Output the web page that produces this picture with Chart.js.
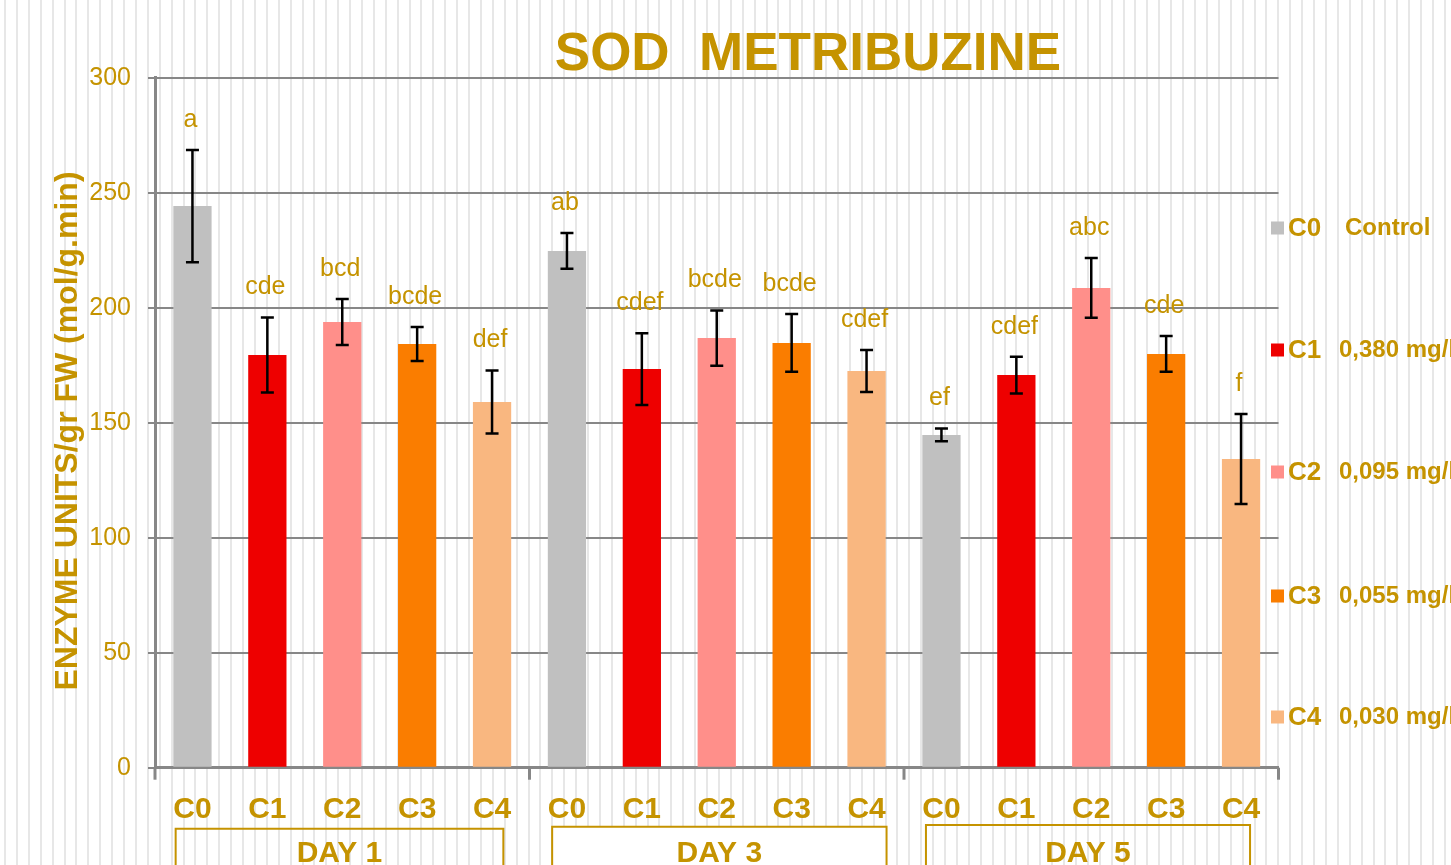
<!DOCTYPE html>
<html>
<head>
<meta charset="utf-8">
<script src="https://cdn.jsdelivr.net/npm/chart.js@4.4.1/dist/chart.umd.min.js"></script>
<style>
  html, body { margin: 0; padding: 0; background: #ffffff; }
  body { width: 1451px; height: 865px; overflow: hidden; }
  #wrap { position: relative; width: 1451px; height: 865px; }
</style>
</head>
<body>
<div id="wrap"><canvas id="c" width="1451" height="865"></canvas></div>
<script>
// ---------------- DATA ----------------
const categories = ['C0','C1','C2','C3','C4','C0','C1','C2','C3','C4','C0','C1','C2','C3','C4'];
const days = ['DAY 1', 'DAY 3', 'DAY 5'];
const sodValues = [244.2, 179.4, 193.8, 184.2, 159.0,
                   224.7, 173.3, 186.8, 184.7, 172.5,
                   144.7, 170.7, 208.6, 179.9, 134.2];
const sodErrors = [24.4, 16.3, 10.0, 7.4, 13.7,
                   7.8, 15.6, 12.0, 12.6, 9.1,
                   2.8, 8.0, 13.0, 7.8, 19.6];
const letters = ['a','cde','bcd','bcde','def',
                 'ab','cdef','bcde','bcde','cdef',
                 'ef','cdef','abc','cde','f'];
const legendCodes = ['C0','C1','C2','C3','C4'];
const legendTexts = ['Control','0,380 mg/l','0,095 mg/l','0,055 mg/l','0,030 mg/l'];
const yTicks = [0, 50, 100, 150, 200, 250, 300];
const chartTitle = 'SOD  METRIBUZINE';
const yTitle = 'ENZYME UNITS/gr FW (mol/g.min)';

// ---------------- STYLE ----------------
const GOLD = '#C59300';
const GRID = '#878787';
const FONT = '"Liberation Sans", Arial, Helvetica, sans-serif';
const seriesColors = ['#C0C0C0', '#EE0000', '#FF8F8A', '#FA7D00', '#F9B780'];
const barColors = categories.map((c, i) => seriesColors[i % 5]);

const overlay = {
  id: 'overlay',
  beforeDraw(chart) {
    const ctx = chart.ctx;
    const x = chart.scales.x;
    ctx.save();
    // page background with light vertical stripes
    ctx.fillStyle = '#ffffff';
    ctx.fillRect(0, 0, chart.width, chart.height);
    ctx.fillStyle = '#e7e7e7';
    for (let sx = 4; sx < chart.width; sx += 11.9) {
      ctx.fillRect(Math.round(sx), 0, 2, chart.height);
    }
    // white fill for the DAY 3 box
    const p = (i) => x.getPixelForValue(i);
    ctx.fillStyle = '#ffffff';
    ctx.fillRect(p(5) - 15, 826, (p(9) + 20) - (p(5) - 15), 60);
    ctx.restore();
  },
  afterDraw(chart) {
    const ctx = chart.ctx;
    const x = chart.scales.x, y = chart.scales.y;
    const area = chart.chartArea;
    const meta = chart.getDatasetMeta(0);
    ctx.save();

    // title
    ctx.fillStyle = GOLD;
    ctx.font = 'bold 53px ' + FONT;
    ctx.textAlign = 'center';
    ctx.textBaseline = 'alphabetic';
    ctx.fillText(chartTitle, 808, 70);

    // y axis title
    ctx.save();
    ctx.translate(77, 431);
    ctx.rotate(-Math.PI / 2);
    ctx.font = 'bold 32px ' + FONT;
    ctx.textAlign = 'center';
    ctx.textBaseline = 'alphabetic';
    ctx.fillText(yTitle, 0, 0);
    ctx.restore();

    // error bars
    ctx.strokeStyle = '#000000';
    ctx.lineWidth = 2.5;
    meta.data.forEach((bar, i) => {
      const v = sodValues[i], e = sodErrors[i];
      const yt = y.getPixelForValue(v + e);
      const yb = y.getPixelForValue(v - e);
      ctx.beginPath();
      ctx.moveTo(bar.x, yt); ctx.lineTo(bar.x, yb);
      ctx.moveTo(bar.x - 6.5, yt); ctx.lineTo(bar.x + 6.5, yt);
      ctx.moveTo(bar.x - 6.5, yb); ctx.lineTo(bar.x + 6.5, yb);
      ctx.stroke();
      // significance letters
      ctx.fillStyle = GOLD;
      ctx.font = '25px ' + FONT;
      ctx.textAlign = 'center';
      ctx.textBaseline = 'middle';
      ctx.fillText(letters[i], bar.x - 2, yt - 30);
    });

    // group separator ticks on x axis
    ctx.strokeStyle = GRID;
    ctx.lineWidth = 3;
    const half = (x.getPixelForValue(1) - x.getPixelForValue(0)) / 2;
    [0, 5, 10, 15].forEach(k => {
      const px = k < 15 ? x.getPixelForValue(k) - half : x.getPixelForValue(14) + half;
      ctx.beginPath();
      ctx.moveTo(px, area.bottom);
      ctx.lineTo(px, area.bottom + 12);
      ctx.stroke();
    });

    // DAY boxes
    const offs = [[-16.8, 11.3], [-14.8, 20], [-15.5, 9]];
    const tops = [828.7, 826.7, 825];
    ctx.strokeStyle = GOLD;
    ctx.lineWidth = 2;
    days.forEach((d, k) => {
      const l = x.getPixelForValue(k * 5) + offs[k][0];
      const r = x.getPixelForValue(k * 5 + 4) + offs[k][1];
      ctx.beginPath();
      ctx.moveTo(l, 870); ctx.lineTo(l, tops[k]); ctx.lineTo(r, tops[k]); ctx.lineTo(r, 870);
      ctx.stroke();
      ctx.fillStyle = GOLD;
      ctx.font = 'bold 30px ' + FONT;
      ctx.textAlign = 'center';
      ctx.textBaseline = 'alphabetic';
      ctx.fillText(d, (l + r) / 2, 862);
    });

    // legend
    const ly = [228, 350, 472, 596, 717];
    legendCodes.forEach((code, k) => {
      ctx.fillStyle = seriesColors[k];
      ctx.fillRect(1271, ly[k] - 6.5, 13, 13);
      ctx.fillStyle = GOLD;
      ctx.textAlign = 'left';
      ctx.textBaseline = 'middle';
      ctx.font = 'bold 26px ' + FONT;
      ctx.fillText(code, 1288, ly[k] + 1);
      ctx.font = 'bold 24px ' + FONT;
      ctx.fillText(legendTexts[k], k === 0 ? 1345 : 1339, ly[k]);
    });

    ctx.restore();
  }
};

new Chart(document.getElementById('c'), {
  type: 'bar',
  data: {
    labels: categories,
    datasets: [{
      data: sodValues,
      backgroundColor: barColors,
      borderWidth: 0,
      categoryPercentage: 1.0,
      barPercentage: 0.511
    }]
  },
  options: {
    responsive: false,
    animation: false,
    events: [],
    layout: { padding: { top: 77.7, right: 172.5, left: 0, bottom: 0 } },
    plugins: { legend: { display: false }, title: { display: false }, tooltip: { enabled: false } },
    scales: {
      x: {
        grid: { display: false, drawTicks: false },
        border: { display: true, color: GRID, width: 3 },
        ticks: {
          color: GOLD,
          font: { family: FONT, size: 30, weight: 'bold' },
          padding: 24,
          maxRotation: 0,
          autoSkip: false
        },
        afterFit(s) { s.height = 97.3; }
      },
      y: {
        min: 0, max: 300,
        afterBuildTicks(s) { s.ticks = yTicks.map(v => ({ value: v })); },
        grid: { color: GRID, lineWidth: 2, tickLength: 7, drawTicks: true },
        border: { display: true, color: GRID, width: 3 },
        ticks: {
          color: GOLD,
          font: { family: FONT, size: 25 },
          padding: 17
        },
        afterFit(s) { s.width = 155; }
      }
    }
  },
  plugins: [overlay]
});
</script>
</body>
</html>
